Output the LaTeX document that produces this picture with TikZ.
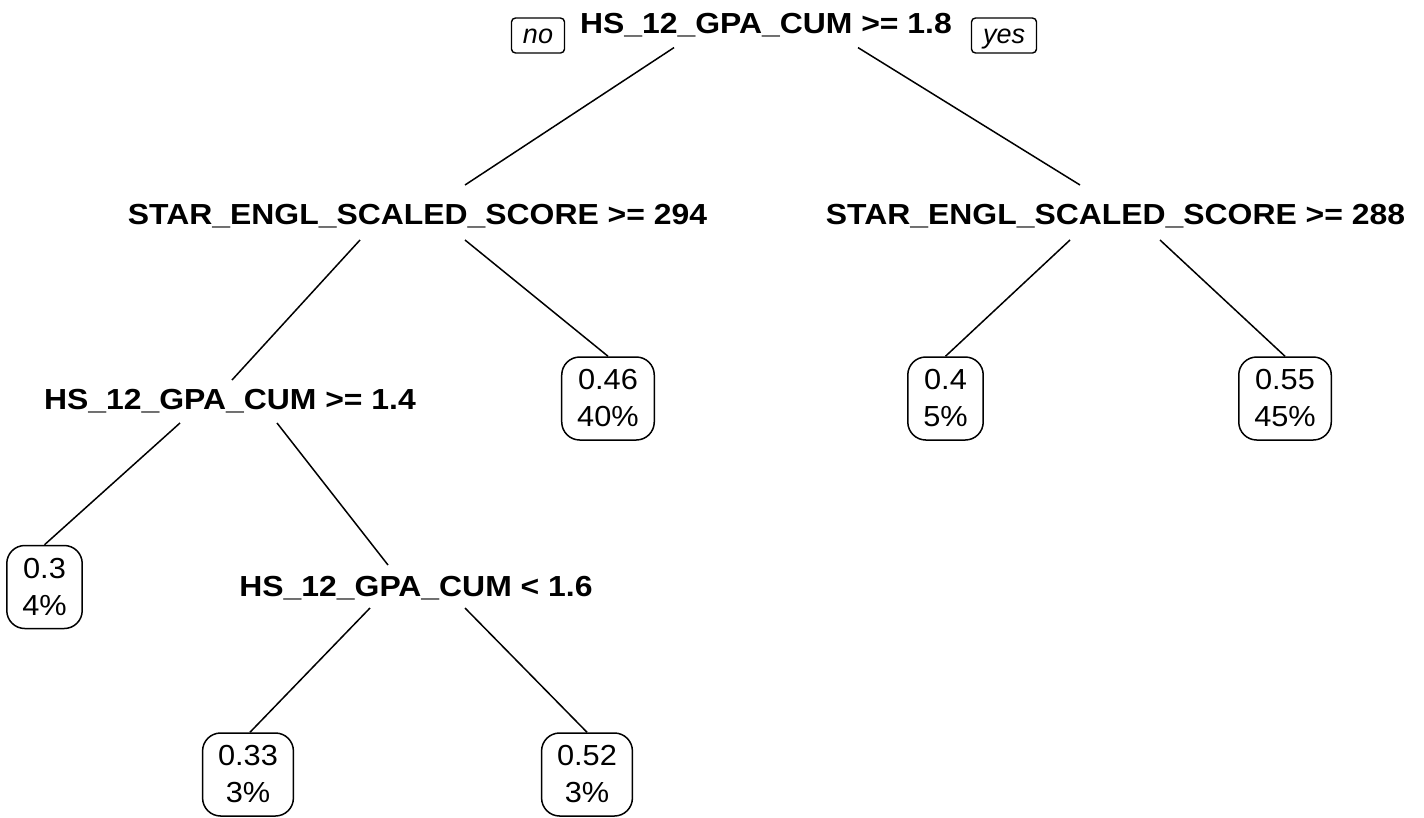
\documentclass[tikz,border=0pt]{standalone}
\usepackage{fontspec}
\setmainfont{Liberation Sans}
\newfontfamily\splitfont{Liberation Sans}[FakeStretch=1.1]
\newfontfamily\leaffont{Liberation Sans}[FakeStretch=1.06]
\begin{document}
\begin{tikzpicture}[x=1pt,y=-1pt,
  split/.style={inner sep=0pt, text height=20.8pt, text depth=0pt,
    font=\splitfont\fontsize{29}{32}\selectfont\bfseries},
  leaf/.style={draw, line width=1.5pt, rounded corners=18pt, align=center,
    inner xsep=15.5pt, inner ysep=0pt, minimum height=83pt,
    font=\leaffont\fontsize{29}{37}\selectfont},
  tag/.style={draw, line width=1.4pt, rounded corners=4pt, inner xsep=11.5pt,
    inner ysep=0pt, minimum height=35pt, text height=15pt, text depth=0pt,
    font=\fontsize{27}{30}\selectfont\itshape},
  branch/.style={line width=1.5pt}]
\useasboundingbox (0,0) rectangle (1424,817);

% split labels
\node[split] (root) at (766,22.6) {HS\_12\_GPA\_CUM >= 1.8};
\node[tag] (no) at (538,35.5) {no};
\node[tag] (yes) at (1004,35.5) {yes};
\node[split] (L) at (417.5,213.6) {STAR\_ENGL\_SCALED\_SCORE >= 294};
\node[split] (R) at (1115.5,213.6) {STAR\_ENGL\_SCALED\_SCORE >= 288};
\node[split] (A) at (230,398.6) {HS\_12\_GPA\_CUM >= 1.4};
\node[split] (B) at (416,585.6) {HS\_12\_GPA\_CUM < 1.6};

% leaves
\node[leaf] (l046) at (608,398.5) {0.46\\40\%};
\node[leaf] (l04) at (945.5,398.5) {0.4\\5\%};
\node[leaf] (l055) at (1285,398.5) {0.55\\45\%};
\node[leaf] (l03) at (44.5,587) {0.3\\4\%};
\node[leaf] (l033) at (248,774.5) {0.33\\3\%};
\node[leaf] (l052) at (587,774.5) {0.52\\3\%};

% branches
\draw[branch] ([shift={(-92,25)}]root.center) -- ([shift={(47.5,-28.6)}]L.center);
\draw[branch] ([shift={(92,25)}]root.center) -- ([shift={(-35.5,-28.6)}]R.center);
\draw[branch] ([shift={(-57.5,26.4)}]L.center) -- ([shift={(2,-18.6)}]A.center);
\draw[branch] ([shift={(47.5,26.4)}]L.center) -- (l046.north);
\draw[branch] ([shift={(-45.5,26.4)}]R.center) -- (l04.north);
\draw[branch] ([shift={(44.5,26.4)}]R.center) -- (l055.north);
\draw[branch] ([shift={(-50,24.4)}]A.center) -- (l03.north);
\draw[branch] ([shift={(47,24.4)}]A.center) -- ([shift={(-28,-20.6)}]B.center);
\draw[branch] ([shift={(-46,22.4)}]B.center) -- ([xshift=2pt]l033.north);
\draw[branch] ([shift={(49,22.4)}]B.center) -- (l052.north);
\end{tikzpicture}
\end{document}
